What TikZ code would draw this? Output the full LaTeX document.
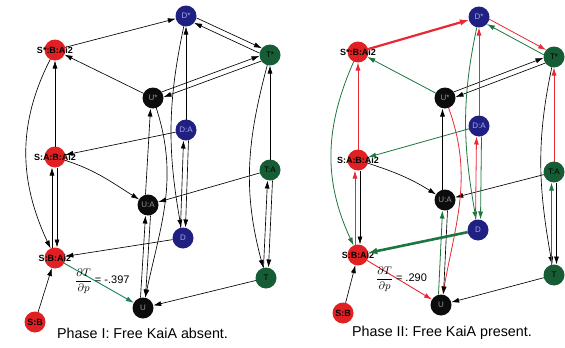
\documentclass[tikz,border=0pt]{standalone}
\usepackage{fontspec}
\setmainfont{Liberation Sans}
\usetikzlibrary{arrows.meta}
\definecolor{nred}{RGB}{225,32,36}
\definecolor{nblue}{RGB}{32,32,130}
\definecolor{ngreen}{RGB}{22,92,52}
\definecolor{nblack}{RGB}{12,12,12}
\definecolor{nbluetext}{RGB}{165,165,235}
\definecolor{ngraytext}{RGB}{150,150,150}
\definecolor{ered}{RGB}{232,40,52}
\definecolor{egreen}{RGB}{28,118,62}
\definecolor{eteal}{RGB}{25,128,95}
\begin{document}
\begin{tikzpicture}[x=1pt,y=1pt,
  st/.style={circle, minimum size=21pt, inner sep=0pt, outer sep=0pt},
  lab/.style={font=\fontsize{9}{10}\selectfont\bfseries, inner sep=0pt},
  labs/.style={font=\fontsize{8}{9}\selectfont, inner sep=0pt},
  sred/.style={st, fill=nred},
  sblue/.style={st, fill=nblue},
  sgreen/.style={st, fill=ngreen},
  sblack/.style={st, fill=nblack},
  e/.style={-{Latex[length=8pt,width=5pt]}, line width=0.65pt, draw=black},
  er/.style={e, draw=ered, line width=0.8pt},
  eg/.style={e, draw=egreen, line width=0.8pt},
  captxt/.style={font=\fontsize{14.3}{16}\selectfont, inner sep=0pt},
  fraclab/.style={anchor=west, inner sep=0pt, font=\fontsize{11}{13}\selectfont}
]
\useasboundingbox[fill=white] (0,0) rectangle (565,-348);

% ---------------- left panel ----------------
\node[sblue, label={[labs,text=nbluetext]center:{D*}}] (L-Dst) at (186,-16) {};
\node[sred, label={[lab]center:{S*:B:Ai2}}] (L-Sst) at (55,-50) {};
\node[sgreen, label={[labs]center:{T*}}] (L-Tst) at (270,-55) {};
\node[sblack, label={[labs,text=ngraytext]center:{U*}}] (L-Ust) at (153,-98) {};
\node[sblue, label={[labs,text=nbluetext]center:{D:A}}] (L-DA) at (186,-130) {};
\node[sred, label={[lab]center:{S:A:B:Ai2}}] (L-SA) at (55,-157) {};
\node[sgreen, label={[labs]center:{T:A}}] (L-TA) at (270,-170) {};
\node[sblack, label={[labs,text=ngraytext]center:{U:A}}] (L-UA) at (148,-205) {};
\node[sblue, label={[labs,text=nbluetext]center:{D}}] (L-D) at (183,-238) {};
\node[sred, label={[lab]center:{S:B:Ai2}}] (L-SB2) at (55,-258) {};
\node[sgreen, label={[labs]center:{T}}] (L-T) at (266,-278) {};
\node[sblack, label={[labs,text=ngraytext]center:{U}}] (L-U) at (143,-308) {};
\node[sred, label={[lab]center:{S:B}}] (L-SB) at (35,-322) {};

\draw[e] (L-Sst) -- (L-Dst);
\draw[e] (L-Dst.-10) -- (L-Tst.140);
\draw[e] (L-Tst.170) -- (L-Dst.-40);
\draw[e] (L-Ust) -- (L-Sst);
\draw[e] (L-Ust.35) -- (L-Tst.185);
\draw[e] (L-Tst.215) -- (L-Ust.5);
\draw[e] (L-DA) -- (L-Dst);
\draw[e] (L-TA) -- (L-Tst);
\draw[e] (L-SA) -- (L-Sst);
\draw[e] (L-DA) -- (L-SA);
\draw[e] (L-Sst) to[out=243,in=115] (L-SB2);
\draw[e] (L-SA) to[out=-18,in=148] (L-UA);
\draw[e] ([xshift=-3pt]L-SB2.north) -- ([xshift=-3pt]L-SA.south);
\draw[e] ([xshift=2pt]L-SA.south) -- ([xshift=2pt]L-SB2.north);
\draw[e] (L-TA) -- (L-UA);
\draw[e] ([xshift=-2.5pt]L-UA.north) -- ([xshift=-2.5pt]L-Ust.south);
\draw[e] (L-Dst) to[out=258,in=100] (L-D);
\draw[e] (L-Ust) to[out=-72,in=78] (L-U);
\draw[e] ([xshift=-2.5pt]L-D.north) -- ([xshift=-2.5pt]L-DA.south);
\draw[e] ([xshift=2.5pt]L-DA.south) -- ([xshift=2.5pt]L-D.north);
\draw[e] ([xshift=-2.5pt]L-U.north) -- ([xshift=-2.5pt]L-UA.south);
\draw[e] ([xshift=2.5pt]L-UA.south) -- ([xshift=2.5pt]L-U.north);
\draw[e] (L-Tst) to[out=255,in=105] (L-T);
\draw[e] ([xshift=-2.5pt]L-T.north) -- ([xshift=-2.5pt]L-TA.south);
\draw[e] ([xshift=2.5pt]L-TA.south) -- ([xshift=2.5pt]L-T.north);
\draw[e] (L-D) -- (L-SB2);
\draw[e] (L-T) -- (L-U);
\draw[e] (L-SB) -- (L-SB2);
\draw[e, draw=eteal, line width=0.9pt] (L-SB2) -- (L-U);

\node[fraclab] (L-frac) at (75,-281) {$\displaystyle\frac{\partial T}{\partial p}$ = -.397};
\node[captxt] (L-cap) at (142.5,-333) {Phase I: Free KaiA absent.};

% ---------------- right panel ----------------
\node[sblue, label={[labs,text=nbluetext]center:{D*}}] (R-Dst) at (479,-17) {};
\node[sred, label={[lab]center:{S*:B:Ai2}}] (R-Sst) at (358,-52) {};
\node[sgreen, label={[labs]center:{T*}}] (R-Tst) at (554,-57) {};
\node[sblack, label={[labs,text=ngraytext]center:{U*}}] (R-Ust) at (445,-98) {};
\node[sblue, label={[labs,text=nbluetext]center:{D:A}}] (R-DA) at (479,-126) {};
\node[sred, label={[lab]center:{S:A:B:Ai2}}] (R-SA) at (358,-160) {};
\node[sgreen, label={[labs]center:{T:A}}] (R-TA) at (554,-172) {};
\node[sblack, label={[labs,text=ngraytext]center:{U:A}}] (R-UA) at (445,-200) {};
\node[sblue, label={[labs,text=nbluetext]center:{D}}] (R-D) at (478,-230) {};
\node[sred, label={[lab]center:{S:B:Ai2}}] (R-SB2) at (358,-255) {};
\node[sgreen, label={[labs]center:{T}}] (R-T) at (554,-275) {};
\node[sblack, label={[labs,text=ngraytext]center:{U}}] (R-U) at (441,-305) {};
\node[sred, label={[lab]center:{S:B}}] (R-SB) at (343,-313) {};

\draw[er, line width=2.2pt, -{Latex[length=9pt,width=6.5pt]}] (R-Sst) -- (R-Dst);
\draw[er] (R-Dst.-12) -- (R-Tst.138);
\draw[eg] (R-Tst.168) -- (R-Dst.-42);
\draw[eg] (R-Ust) -- (R-Sst);
\draw[e] (R-Ust.35) -- (R-Tst.185);
\draw[e] (R-Tst.215) -- (R-Ust.5);
\draw[er] (R-DA) -- (R-Dst);
\draw[er] (R-TA) -- (R-Tst);
\draw[er] (R-SA) -- (R-Sst);
\draw[eg] (R-DA) -- (R-SA);
\draw[eg] (R-Sst) to[out=246,in=115] (R-SB2);
\draw[e] (R-SA) to[out=-18,in=148] (R-UA);
\draw[er] ([xshift=-3pt]R-SB2.north) -- ([xshift=-3pt]R-SA.south);
\draw[e] ([xshift=2pt]R-SA.south) -- ([xshift=2pt]R-SB2.north);
\draw[e] (R-TA) -- (R-UA);
\draw[e] ([xshift=-2.5pt]R-UA.north) -- ([xshift=-2.5pt]R-Ust.south);
\draw[eg] (R-Dst) to[out=258,in=100] (R-D);
\draw[er] (R-Ust) to[out=-70,in=80] (R-U);
\draw[er] ([xshift=-2.5pt]R-D.north) -- ([xshift=-2.5pt]R-DA.south);
\draw[eg] ([xshift=2.5pt]R-DA.south) -- ([xshift=2.5pt]R-D.north);
\draw[eg] ([xshift=-2.5pt]R-U.north) -- ([xshift=-2.5pt]R-UA.south);
\draw[e] ([xshift=2.5pt]R-UA.south) -- ([xshift=2.5pt]R-U.north);
\draw[e] (R-Tst) to[out=258,in=100] (R-T);
\draw[eg] ([xshift=-2.5pt]R-T.north) -- ([xshift=-2.5pt]R-TA.south);
\draw[e] ([xshift=2.5pt]R-TA.south) -- ([xshift=2.5pt]R-T.north);
\draw[eg, line width=2.6pt, -{Latex[length=9pt,width=7pt]}] (R-D) -- (R-SB2);
\draw[e] (R-T) -- (R-U);
\draw[e] (R-SB) -- (R-SB2);
\draw[er, line width=0.9pt] (R-SB2) -- (R-U);

\node[fraclab] (R-frac) at (376,-279) {$\displaystyle\frac{\partial T}{\partial p}$ = .290};
\node[captxt] (R-cap) at (442,-333) {Phase II: Free KaiA present.};
\end{tikzpicture}
\end{document}
